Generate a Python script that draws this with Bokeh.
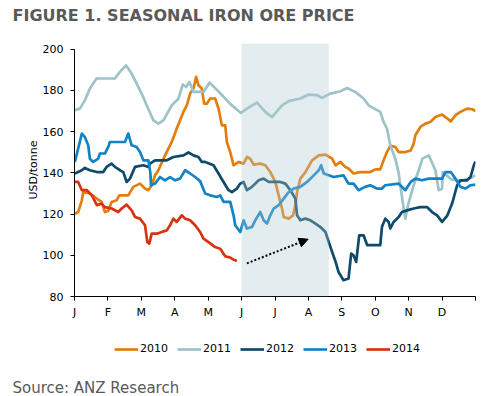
from bokeh.plotting import figure
from bokeh.layouts import column
from bokeh.models import (Range1d, FixedTicker, BoxAnnotation, Arrow, NormalHead,
                          Legend, LegendItem, Title)
from bokeh.embed import file_html
from bokeh.resources import INLINE

# ---------------- data ----------------
month_ticks = [0, 1, 2, 3, 4, 5, 6, 7, 8, 9, 10, 11, 12]
month_labels = ["J", "F", "M", "A", "M", "J", "J", "A", "S", "O", "N", "D", ""]
y_ticks = [80, 100, 120, 140, 160, 180, 200]

x_2010 = [0.01,0.11,0.22,0.26,0.46,0.67,0.81,0.91,1.01,1.11,1.26,1.34,1.61,1.76,1.96,2.11,2.21,2.31,2.41,2.51,
          2.71,2.81,2.91,3.06,3.16,3.26,3.36,3.46,3.56,3.64,3.71,3.81,3.88,3.96,4.06,4.21,4.31,4.41,4.51,4.56,
          4.66,4.76,4.91,5.06,5.16,5.26,5.36,5.56,5.71,5.86,6.01,6.11,6.21,6.26,6.41,6.54,6.61,6.66,6.76,6.91,
          7.11,7.31,7.51,7.71,7.81,7.96,8.10,8.20,8.35,8.55,8.85,9.00,9.15,9.25,9.35,9.45,9.60,9.70,9.90,10.06,
          10.15,10.20,10.35,10.50,10.65,10.80,11.00,11.10,11.26,11.40,11.55,11.75,11.90,12.00]
y_2010 = [120.2,121,126.7,130.7,130,127.5,125.9,121,121.5,125.9,126.7,129.1,129.1,133.2,134.8,132.4,131.6,134,138.8,141.3,
          148.5,151.8,155,161.5,165.5,169.6,172.8,178.5,180.9,186.6,182.5,180.9,173.6,173.6,176.1,176.1,171.2,163.1,163.1,155,
          150.1,143.7,145.3,144.5,147.7,146.9,144,144.5,143.7,140.4,135.6,129.1,122.7,118.6,117.8,119.4,124.3,130.7,137.2,140.4,
          146.1,148.5,148.9,146.9,143.7,145.3,142.9,142.1,139.7,140.4,140.4,141.7,141.7,146.1,150.1,153.1,152.6,150.1,150.1,150.9,
          154.2,158.3,162.3,163.9,164.7,167.1,168.3,167.1,165,168,169.6,171.2,170.9,170]

x_2011 = [0.0,0.16,0.31,0.46,0.66,1.21,1.36,1.54,1.71,2.01,2.16,2.36,2.51,2.66,2.91,3.11,3.24,3.34,3.44,3.56,
          3.86,4.04,4.31,4.66,4.98,5.16,5.46,5.71,5.91,6.21,6.41,6.76,7.01,7.26,7.41,7.66,7.96,8.16,8.40,8.65,
          8.80,9.15,9.25,9.35,9.45,9.60,9.70,9.75,9.85,9.90,9.98,10.15,10.35,10.41,10.60,10.80,10.90,11.00,11.02,11.26,
          11.55,11.85,12.0]
y_2011 = [170.4,171.2,175.2,180.9,185.8,185.8,189,192.2,188.2,178.5,172.8,165.5,163.9,165.5,172.8,176,182.9,181.7,184.1,179.3,
          179.3,183.8,179.5,173.5,169.1,171.2,174.1,169.6,167.1,172.8,174.8,176.1,178,177.7,176.4,178.5,179.6,181.2,179.3,176.1,
          172.8,169.6,164.7,161.5,153.4,146.9,140,134,122.7,117.8,124.3,134,143.7,146.9,148.5,141.3,131.6,132.4,140.4,137,
          136,137.5,138.8]

x_2012 = [0.01,0.22,0.31,0.46,0.67,0.86,0.96,1.11,1.21,1.36,1.46,1.56,1.66,1.81,2.06,2.21,2.26,2.41,2.76,2.96,
          3.26,3.41,3.56,3.71,3.81,3.91,4.16,4.31,4.46,4.61,4.71,4.86,4.96,5.06,5.16,5.31,5.51,5.66,5.81,6.16,
          6.31,6.46,6.61,6.66,6.76,6.91,7.06,7.21,7.36,7.51,7.61,7.71,7.81,7.90,8.05,8.20,8.28,8.35,8.43,8.52,
          8.65,8.76,9.15,9.20,9.30,9.40,9.45,9.55,9.70,9.80,9.95,10.15,10.35,10.55,10.70,10.85,11.00,11.16,11.30,11.45,
          11.55,11.75,11.85,11.95,12.0]
y_2012 = [139.7,141.3,142.4,141.3,140.4,140.4,142.9,144.5,142.9,141.3,140.4,135.6,137.2,142.9,143.7,142.9,144.5,146.1,146.1,147.7,
          148.5,149.9,148.5,147.7,145.3,145.3,143.7,139.7,135.6,131.6,130.7,132.4,134.8,135.6,131.6,133.2,136.4,137.2,135.6,135.6,
          134.8,131.6,127.5,119.4,117,117.8,117,115.4,113.7,111.3,106.4,101.6,97,91.9,87.9,88.7,100.8,100,96.8,109.7,
          109.7,104.9,104.9,113.7,117.8,116.2,113,116.2,118.6,121,121.8,122.7,123.4,123.4,121,119.4,116.2,119.4,125.1,134,
          136.4,136.4,138,143.7,145.5]

x_2013 = [0.01,0.11,0.22,0.31,0.41,0.46,0.56,0.71,0.76,0.91,1.01,1.06,1.51,1.61,1.71,1.86,1.96,2.06,2.21,2.27,
          2.29,2.41,2.56,2.71,2.86,3.01,3.16,3.31,3.46,3.61,3.76,3.91,4.06,4.26,4.36,4.46,4.66,4.76,4.81,4.96,
          5.06,5.16,5.31,5.41,5.56,5.66,5.76,5.86,5.96,6.11,6.26,6.41,6.56,6.76,6.96,7.16,7.31,7.38,7.46,7.61,
          7.75,8.05,8.20,8.35,8.50,8.70,8.85,9.05,9.20,9.30,9.70,9.90,10.06,10.20,10.40,10.60,11.00,11.10,11.26,11.40,
          11.55,11.70,11.85,12.0]
y_2013 = [145.3,151.8,159.1,157.4,153.4,146.9,145.3,146.9,149.4,149.4,152.6,155,155,159.1,153.4,152.6,150.1,146.1,146.1,140,
          134,134.8,138,136.4,138,136.4,137.2,141.3,139.7,138,136,130,129.1,128.3,129.1,125.9,125.9,119.4,114.6,111.3,
          117,113,113.7,117,121,117,115.4,119.4,122.7,124.3,127.5,130.7,132.4,133.2,135.6,138.8,141.3,143.7,139.7,138.8,
          138,138.8,134.8,134.8,131.6,133.2,134,132.4,132.4,134,134.8,131.6,135.6,137.2,136.4,137.2,137.2,140.4,140.4,137.2,
          133.2,132.4,134,134.3]

x_2014 = [0.01,0.11,0.22,0.37,0.52,0.67,0.81,0.91,1.11,1.31,1.41,1.56,1.71,1.81,1.96,2.11,2.18,2.24,2.31,2.46,
          2.61,2.76,2.86,2.96,3.06,3.21,3.31,3.46,3.61,3.76,3.86,4.01,4.21,4.36,4.51,4.66,4.76,4.86]
y_2014 = [135.6,135.6,131.6,131.6,129.1,124.3,125.1,123.4,122.7,121,122.7,124.6,121.8,118.6,117.8,114.6,106.4,105.7,110.5,110.5,
          111.3,112.1,114.6,117.8,116.2,119.4,117.8,117,114.6,111.3,108.1,106.4,104,103.2,99.5,98.9,97.9,97.2]

series_names = ["2010", "2011", "2012", "2013", "2014"]
series_x = [x_2010, x_2011, x_2012, x_2013, x_2014]
series_y = [y_2010, y_2011, y_2012, y_2013, y_2014]
series_colors = ["#E37E0E", "#9DC2C8", "#0E4A6B", "#1283C4", "#D9320E"]

shade_start, shade_end = 5.0, 7.61
arrow_start = (5.16, 96.1)
arrow_end = (6.99, 107.8)

TITLE = "FIGURE 1. SEASONAL IRON ORE PRICE"
SOURCE = "Source: ANZ Research"
FONT = "DejaVu Sans"
LINE_W = 2.7
W = 488
LEFT, RIGHT = 74, 13


def blank_fig(h, top=0):
    f = figure(width=W, height=h, x_range=Range1d(0, 1), y_range=Range1d(-1000, -999),
               x_axis_type=None, y_axis_type=None, output_backend="svg", toolbar_location=None,
               min_border_left=LEFT, min_border_right=RIGHT, min_border_top=top, min_border_bottom=0)
    f.outline_line_color = None
    f.grid.visible = False
    return f


# ---------------- header (title) ----------------
head = blank_fig(30, top=24)
head.title.text = TITLE
head.title.text_font = FONT
head.title.text_font_size = "16px"
head.title.text_font_style = "bold"
head.title.text_color = "#595959"
head.title.align = "left"
head.title.offset = 12 - LEFT
head.title.standoff = 0

# ---------------- main chart ----------------
p = figure(width=W, height=296, x_range=Range1d(0, 12), y_range=Range1d(80, 202.8),
           output_backend="svg", toolbar_location=None,
           min_border_left=LEFT, min_border_right=RIGHT, min_border_top=13, min_border_bottom=30)
p.outline_line_color = None
p.grid.visible = False

for xs, ys, c in zip(series_x, series_y, series_colors):
    p.line(xs, ys, line_color=c, line_width=LINE_W, line_join="round")

p.add_layout(BoxAnnotation(left=shade_start, right=shade_end, fill_color="#AFC9D1", fill_alpha=0.35,
                           line_color=None))
p.add_layout(Arrow(x_start=arrow_start[0], y_start=arrow_start[1], x_end=arrow_end[0], y_end=arrow_end[1],
                   line_color="black", line_width=2, line_dash="2 2",
                   end=NormalHead(size=9, fill_color="black", line_color="black")))

p.xaxis.ticker = FixedTicker(ticks=month_ticks)
p.xaxis.major_label_overrides = {t: l for t, l in zip(month_ticks, month_labels)}
p.yaxis.ticker = FixedTicker(ticks=y_ticks)
p.yaxis.bounds = (80, 200)
for ax in (p.xaxis[0], p.yaxis[0]):
    ax.axis_line_color = "black"
    ax.axis_line_width = 1
    ax.major_tick_line_color = "black"
    ax.major_tick_in = 0
    ax.major_tick_out = 4
    ax.minor_tick_line_color = None
    ax.major_label_text_font = FONT
    ax.major_label_text_font_size = "11px"
    ax.major_label_text_color = "black"
p.xaxis.major_label_standoff = 5
p.yaxis.major_label_standoff = 7
p.yaxis.axis_label = "USD/tonne"
p.yaxis.axis_label_text_font = FONT
p.yaxis.axis_label_text_font_size = "11px"
p.yaxis.axis_label_text_font_style = "normal"
p.yaxis.axis_label_text_color = "black"
p.yaxis.axis_label_standoff = 0

# ---------------- footer (legend + source) ----------------
foot = blank_fig(70)
leg_renderers = []
for xs, ys, c in zip(series_x, series_y, series_colors):
    # same series on the footer's own ranges: outside its view, used only for the legend swatches
    leg_renderers.append(foot.line(xs, ys, line_color=c, line_width=LINE_W))
legend = Legend(items=[LegendItem(label=n, renderers=[r]) for n, r in zip(series_names, leg_renderers)],
                orientation="horizontal", location=(114 - LEFT, 21),
                glyph_width=24, glyph_height=12, label_standoff=2, spacing=9,
                padding=0, margin=0, border_line_color=None, background_fill_alpha=0,
                label_text_font=FONT, label_text_font_size="11px", label_text_color="black")
foot.add_layout(legend, "center")
foot.add_layout(Title(text=SOURCE, align="left", offset=12 - LEFT, standoff=0, text_font=FONT,
                      text_font_size="15px", text_font_style="normal", text_color="#595959"), "below")

layout = column(head, p, foot, spacing=0)
open("out.html", "w").write(file_html(layout, INLINE))
